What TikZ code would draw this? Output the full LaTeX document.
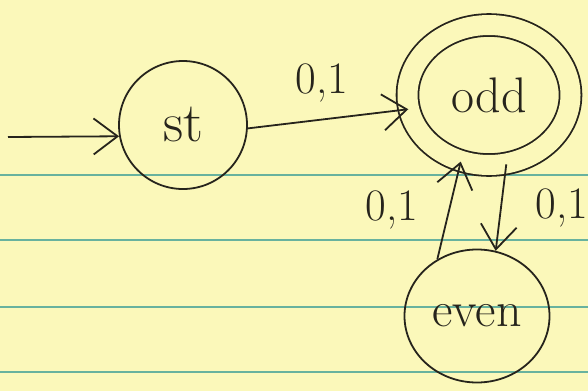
\documentclass[tikz,border=0pt]{standalone}
\usepackage{fontspec}
\usepackage{tikz}
\usepackage{xcolor}
\usetikzlibrary{shapes.geometric, arrows.meta}

\definecolor{paper}{RGB}{251,248,186}
\definecolor{ruling}{RGB}{104,178,158}
\definecolor{pen}{RGB}{38,36,28}

\begin{document}
\begin{tikzpicture}[
    x=1pt, y=-1pt,
    state_node/.style={circle, draw=pen, text=pen, line width=1.8pt, minimum size=128pt, inner sep=0pt, font=\fontsize{50}{60}\selectfont},
    accept_node/.style={state_node, ellipse, double=paper, double distance=20pt, minimum width=163pt, minimum height=140pt},
    trans_arrow/.style={-{Straight Barb[length=24pt, width=36pt]}, line width=1.8pt, draw=pen},
    edge_label/.style={font=\fontsize{45}{54}\selectfont, text=pen, inner sep=2pt},
    rule_line/.style={draw=ruling, line width=2.2pt}
]

% Paper
\useasboundingbox (0,0) rectangle (588,391);
\fill[paper] (0,0) rectangle (588,391);
\foreach \ly in {175,240,307,372}
    \draw[rule_line] (0,\ly) -- (588,\ly);

% States
\node[state_node, font=\fontsize{56}{66}\selectfont] (st) at (183,125) {st};
\node[accept_node] (odd) at (489,95) {odd};
\node[state_node, ellipse, minimum width=145pt, minimum height=133pt] (even) at (477,316) {even};

% Start arrow
\coordinate (init) at (8,137);
\draw[trans_arrow] (init) -- (st.190);

% Transitions
\draw[trans_arrow] (st.-3) -- node[edge_label, above=14pt, pos=0.46] {0,1} (odd.190);
\draw[trans_arrow] (even.125) -- node[edge_label, left=28pt] {0,1} (odd.247);
\draw[trans_arrow] (odd.-76) -- node[edge_label, right=32pt] {0,1} (even.74);

\end{tikzpicture}
\end{document}
